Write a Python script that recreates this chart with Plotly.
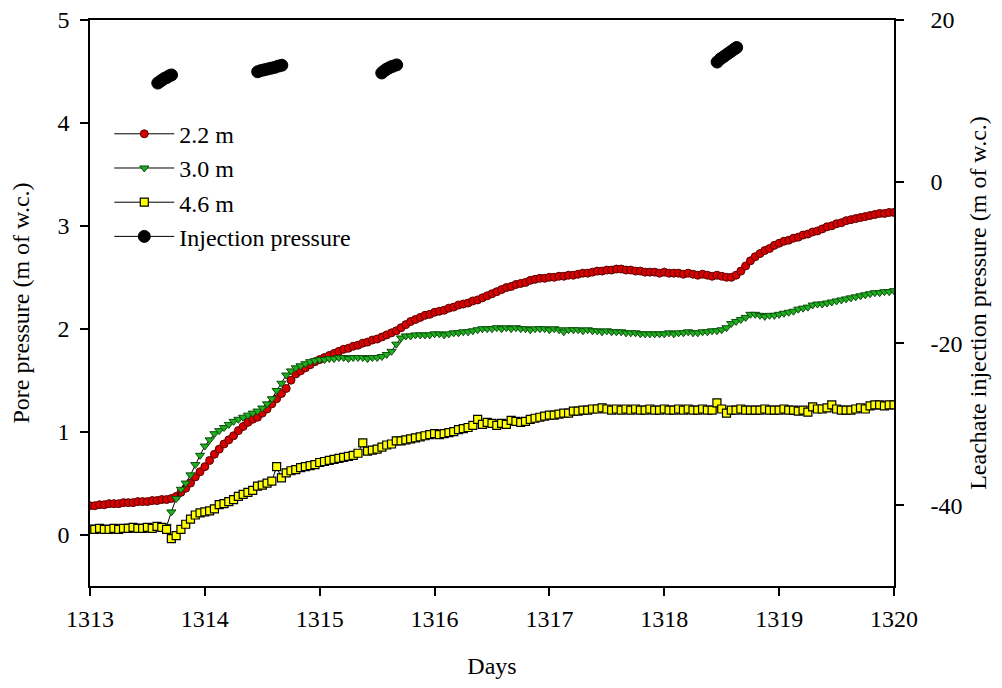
import plotly.graph_objects as go

# hourly readings, day 1313 to day 1320
days = [1313 + h / 24 for h in range(169)]

p_2_2m = [
    0.28, 0.28, 0.29, 0.29, 0.30, 0.30, 0.30, 0.31, 0.31, 0.31, 0.32, 0.32,
    0.32, 0.33, 0.33, 0.34, 0.34, 0.35, 0.37, 0.41, 0.45, 0.50, 0.56, 0.61,
    0.66, 0.72, 0.78, 0.83, 0.88, 0.92, 0.96, 1.01, 1.05, 1.09, 1.12, 1.14,
    1.18, 1.22, 1.27, 1.32, 1.37, 1.42, 1.50, 1.56, 1.59, 1.62, 1.65, 1.68,
    1.70, 1.72, 1.74, 1.76, 1.78, 1.80, 1.81, 1.83, 1.84, 1.86, 1.87, 1.89,
    1.90, 1.92, 1.94, 1.96, 1.98, 2.01, 2.04, 2.07, 2.09, 2.11, 2.13, 2.14,
    2.16, 2.17, 2.18, 2.20, 2.21, 2.23, 2.24, 2.25, 2.27, 2.28, 2.30, 2.32,
    2.34, 2.36, 2.38, 2.40, 2.41, 2.43, 2.44, 2.45, 2.47, 2.48, 2.49, 2.49,
    2.50, 2.50, 2.51, 2.51, 2.52, 2.52, 2.53, 2.54, 2.54, 2.55, 2.56, 2.56,
    2.57, 2.57, 2.58, 2.58, 2.57, 2.57, 2.56, 2.56, 2.55, 2.55, 2.55, 2.54,
    2.55, 2.54, 2.54, 2.54, 2.53, 2.54, 2.53, 2.52, 2.53, 2.52, 2.51, 2.52,
    2.51, 2.50, 2.50, 2.52, 2.56, 2.61, 2.66, 2.70, 2.73, 2.76, 2.78, 2.81,
    2.83, 2.85, 2.86, 2.88, 2.89, 2.91, 2.92, 2.94, 2.95, 2.97, 2.99, 3.00,
    3.02, 3.03, 3.05, 3.06, 3.07, 3.08, 3.09, 3.10, 3.11, 3.12, 3.12, 3.13,
    3.13,
]

p_3_0m = [
    0.07, 0.07, 0.07, 0.06, 0.07, 0.07, 0.07, 0.07, 0.08, 0.07, 0.07, 0.08,
    0.07, 0.08, 0.08, 0.08, 0.08, 0.22, 0.35, 0.44, 0.50, 0.58, 0.68, 0.77,
    0.86, 0.92, 0.98, 1.01, 1.04, 1.07, 1.10, 1.12, 1.14, 1.16, 1.18, 1.20,
    1.23, 1.27, 1.32, 1.40, 1.47, 1.55, 1.59, 1.62, 1.64, 1.66, 1.68, 1.69,
    1.70, 1.70, 1.71, 1.71, 1.72, 1.72, 1.71, 1.72, 1.72, 1.72, 1.71, 1.72,
    1.72, 1.73, 1.75, 1.78, 1.85, 1.91, 1.93, 1.93, 1.94, 1.94, 1.94, 1.94,
    1.95, 1.95, 1.94, 1.95, 1.96, 1.96, 1.97, 1.97, 1.98, 1.99, 2.00, 2.00,
    2.00, 2.01, 2.00, 2.01, 2.00, 2.01, 2.00, 2.00, 1.99, 2.00, 2.00, 2.00,
    1.99, 2.00, 1.99, 1.97, 1.99, 1.99, 1.99, 1.98, 1.99, 1.98, 1.98, 1.97,
    1.98, 1.97, 1.97, 1.97, 1.96, 1.96, 1.96, 1.95, 1.95, 1.95, 1.95, 1.95,
    1.95, 1.96, 1.95, 1.96, 1.96, 1.97, 1.96, 1.96, 1.97, 1.97, 1.98, 1.98,
    1.99, 2.01, 2.05, 2.07, 2.09, 2.11, 2.14, 2.14, 2.13, 2.12, 2.13, 2.13,
    2.14, 2.15, 2.16, 2.17, 2.19, 2.20, 2.21, 2.23, 2.24, 2.24, 2.25, 2.26,
    2.27, 2.28, 2.29, 2.30, 2.31, 2.32, 2.33, 2.34, 2.35, 2.35, 2.36, 2.36,
    2.37,
]

p_4_6m = [
    0.05, 0.05, 0.06, 0.05, 0.05, 0.06, 0.05, 0.06, 0.06, 0.07, 0.06, 0.06,
    0.07, 0.06, 0.08, 0.07, 0.05, -0.04, -0.01, 0.05, 0.10, 0.15, 0.19, 0.21,
    0.22, 0.23, 0.25, 0.29, 0.30, 0.32, 0.34, 0.37, 0.39, 0.41, 0.43, 0.47,
    0.48, 0.50, 0.52, 0.66, 0.55, 0.60, 0.62, 0.63, 0.65, 0.66, 0.67, 0.68,
    0.70, 0.71, 0.72, 0.73, 0.74, 0.75, 0.76, 0.77, 0.79, 0.89, 0.81, 0.82,
    0.83, 0.85, 0.87, 0.88, 0.91, 0.91, 0.92, 0.93, 0.94, 0.95, 0.96, 0.97,
    0.98, 0.97, 0.98, 0.99, 1.00, 1.02, 1.03, 1.04, 1.06, 1.12, 1.07, 1.09,
    1.08, 1.06, 1.08, 1.07, 1.11, 1.10, 1.09, 1.10, 1.12, 1.13, 1.14, 1.15,
    1.16, 1.16, 1.17, 1.18, 1.18, 1.20, 1.20, 1.21, 1.21, 1.22, 1.22, 1.23,
    1.22, 1.21, 1.22, 1.21, 1.22, 1.21, 1.22, 1.21, 1.21, 1.22, 1.21, 1.21,
    1.22, 1.21, 1.21, 1.22, 1.21, 1.22, 1.21, 1.21, 1.22, 1.21, 1.21, 1.28,
    1.22, 1.18, 1.21, 1.21, 1.22, 1.21, 1.21, 1.21, 1.21, 1.22, 1.21, 1.21,
    1.21, 1.22, 1.21, 1.21, 1.20, 1.21, 1.19, 1.24, 1.22, 1.22, 1.23, 1.26,
    1.22, 1.21, 1.21, 1.21, 1.22, 1.23, 1.22, 1.25, 1.26, 1.26, 1.25, 1.26,
    1.26,
]

# leachate injection pressure (right axis); None separates injection events
inj_days = [
    1313.59, 1313.61, 1313.63, 1313.65, 1313.67, 1313.69, 1313.71, None,
    1314.46, 1314.49, 1314.52, 1314.55, 1314.58, 1314.61, 1314.64, 1314.67, None,
    1315.54, 1315.56, 1315.58, 1315.60, 1315.62, 1315.64, 1315.67, None,
    1318.46, 1318.49, 1318.52, 1318.55, 1318.58, 1318.61, 1318.63,
]
inj_pressure = [
    12.2, 12.4, 12.6, 12.8, 12.9, 13.1, 13.2, None,
    13.6, 13.75, 13.85, 13.95, 14.05, 14.15, 14.3, 14.4, None,
    13.45, 13.7, 13.9, 14.05, 14.2, 14.3, 14.45, None,
    14.8, 15.2, 15.5, 15.8, 16.1, 16.4, 16.6,
]

x_ticks = [1313, 1314, 1315, 1316, 1317, 1318, 1319, 1320]
left_ticks = [0, 1, 2, 3, 4, 5]
right_ticks = [-40, -20, 0, 20]
right_tick_labels = ["-40", "-20", "0", "20"]

FONT = "'Liberation Serif', 'Times New Roman', Times, serif"
fig = go.Figure()

fig.add_trace(go.Scatter(
    x=days, y=p_2_2m, name="2.2 m", mode="lines+markers",
    line=dict(color="black", width=1),
    marker=dict(symbol="circle", size=8, color="#d60000",
                line=dict(color="#5a0000", width=1)),
))
fig.add_trace(go.Scatter(
    x=days, y=p_3_0m, name="3.0 m", mode="lines+markers",
    line=dict(color="black", width=1),
    marker=dict(symbol="triangle-down", size=8, color="#1fae1f",
                line=dict(color="#0b4d0b", width=1)),
))
fig.add_trace(go.Scatter(
    x=days, y=p_4_6m, name="4.6 m", mode="lines+markers",
    line=dict(color="black", width=1),
    marker=dict(symbol="square", size=8, color="#ffff00",
                line=dict(color="black", width=1.2)),
))
fig.add_trace(go.Scatter(
    x=inj_days, y=inj_pressure, name="Injection pressure", mode="lines+markers",
    yaxis="y2", connectgaps=False,
    line=dict(color="black", width=1),
    marker=dict(symbol="circle", size=12, color="black",
                line=dict(color="black", width=1)),
))

axis_common = dict(
    showline=True, linecolor="black", linewidth=1.5,
    ticks="outside", ticklen=8, tickwidth=1.5, tickcolor="black",
    showgrid=False, zeroline=False, automargin=False,
    ticklabeloverflow="allow",
    tickfont=dict(family=FONT, size=24, color="black"),
)
title_font = dict(family=FONT, size=24, color="black")

# the page body adds an 8 px offset, so the figure is 994 x 680
fig.update_layout(
    width=994, height=680,
    margin=dict(l=82, r=108, t=12, b=102),
    paper_bgcolor="white", plot_bgcolor="white",
    font=dict(family=FONT, size=24, color="black"),
    showlegend=True,
    legend=dict(
        x=0.024, y=0.838, xanchor="left", yanchor="top",
        bgcolor="rgba(0,0,0,0)", borderwidth=0,
        font=dict(family=FONT, size=24, color="black"),
        itemwidth=60, tracegroupgap=0,
    ),
    xaxis=dict(
        **axis_common, range=[1313, 1320], tickvals=x_ticks,
        mirror=True, ticklabelstandoff=2,
        title=dict(text="Days", font=title_font, standoff=27),
    ),
    yaxis=dict(
        **axis_common, range=[-0.5, 5], tickvals=left_ticks,
        ticklabelstandoff=6,
        title=dict(text="Pore pressure (m of w.c.)", font=title_font, standoff=22),
    ),
    yaxis2=dict(
        **axis_common, range=[-50, 20], tickvals=right_ticks,
        ticktext=right_tick_labels,
        overlaying="y", side="right", ticklabelstandoff=22,
        title=dict(text="Leachate injection pressure (m of w.c.)",
                   font=title_font, standoff=8),
    ),
)

fig.write_html("out.html")
